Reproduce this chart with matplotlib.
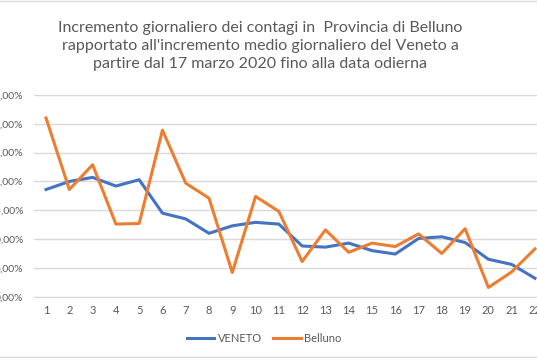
import matplotlib.pyplot as plt
from matplotlib.lines import Line2D
from matplotlib.ticker import FuncFormatter, MultipleLocator

plt.rcParams["font.family"] = ["Lato", "DejaVu Sans"]

days = list(range(1, 23))
veneto = [18.6, 20.0, 20.7, 19.2, 20.3, 14.5, 13.5, 11.0, 12.3, 12.9, 12.6,
          8.8, 8.6, 9.3, 8.0, 7.4, 10.1, 10.4, 9.4, 6.5, 5.6, 3.2]
belluno = [31.0, 18.6, 22.9, 12.6, 12.7, 28.9, 19.7, 17.1, 4.2, 17.4, 14.8,
           6.1, 11.6, 7.7, 9.3, 8.7, 10.9, 7.5, 11.8, 1.6, 4.3, 8.3]

title = ("Incremento giornaliero dei contagi in  Provincia di Belluno\n"
         "rapportato all'incremento medio giornaliero del Veneto a\n"
         "partire dal 17 marzo 2020 fino alla data odierna")

grey = "#595959"

fig = plt.figure(figsize=(5.37, 3.58), dpi=100)
# plot area runs past the right edge, as in the cropped original
ax = fig.add_axes([34.4 / 537, 1 - 296.7 / 358, 512.2 / 537, 201.7 / 358])

ax.plot(days, veneto, color="#4472C4", linewidth=2.2, label="VENETO")
ax.plot(days, belluno, color="#ED7D31", linewidth=2.2, label="Belluno")

ax.set_xlim(0.5, 22.5)
ax.set_ylim(0, 35)
ax.yaxis.set_major_locator(MultipleLocator(5))
ax.yaxis.set_major_formatter(FuncFormatter(lambda v, p: f"{v:.2f}%".replace(".", ",")))
ax.set_xticks(days)
ax.grid(axis="y", color="#D9D9D9", linewidth=1)
ax.set_axisbelow(True)
for s in ax.spines.values():
    s.set_visible(False)
ax.spines["bottom"].set_visible(True)
ax.spines["bottom"].set_color("#D9D9D9")
ax.tick_params(length=0, colors=grey, labelsize=8)
ax.tick_params(axis="y", pad=8, labelsize=7.5)
ax.tick_params(axis="x", pad=6)

fig.text(260 / 537, 1 - 46 / 358, title, ha="center", va="center", color=grey,
         fontsize=11.5, linespacing=1.35)

leg = fig.legend(loc="center", bbox_to_anchor=(264 / 537, 1 - 338 / 358), ncol=2,
                 frameon=False, fontsize=8, handlelength=2.5, handletextpad=0.3,
                 columnspacing=1.0)
for t in leg.get_texts():
    t.set_color(grey)

# chart area border (top and bottom)
fig.add_artist(Line2D([0, 1], [1 - 0.5 / 358, 1 - 0.5 / 358], color="#D9D9D9", linewidth=1))
fig.add_artist(Line2D([0, 1], [1 - 356.5 / 358, 1 - 356.5 / 358], color="#D9D9D9", linewidth=1))

fig.savefig("out.png", dpi=100)
